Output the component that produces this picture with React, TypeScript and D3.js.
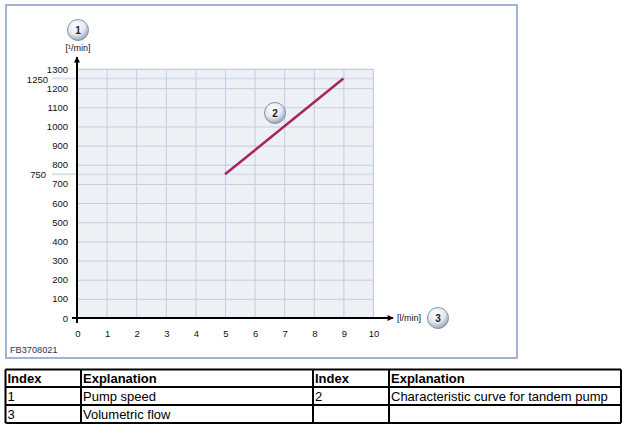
import React, { useEffect, useRef } from 'react';
import * as d3 from 'd3';

// data
const flowTicks = [0, 1, 2, 3, 4, 5, 6, 7, 8, 9, 10];
const speedTicks = [0, 100, 200, 300, 400, 500, 600, 700, 800, 900, 1000, 1100, 1200, 1300];
const markedSpeeds = [750, 1250];
const curveFlow = [5, 9];
const curveSpeed = [750, 1250];

const tableHeader = ['Index', 'Explanation', 'Index', 'Explanation'];
const tableRows = [
  ['1', 'Pump speed', '2', 'Characteristic curve for tandem pump'],
  ['3', 'Volumetric flow', '', ''],
];

export default () => {
  const svgRef = useRef<SVGSVGElement>(null);

  useEffect(() => {
    if (!svgRef.current) return;
    const svg = d3.select(svgRef.current);
    svg.selectAll('*').remove();

    const x = d3.scaleLinear().domain([0, 10]).range([77, 373]);
    const y = d3.scaleLinear().domain([0, 1300]).range([318, 69]);

    const defs = svg.append('defs');
    const grad = defs.append('radialGradient').attr('id', 'bubble')
      .attr('cx', '40%').attr('cy', '30%').attr('r', '70%');
    grad.append('stop').attr('offset', '0%').attr('stop-color', '#ffffff');
    grad.append('stop').attr('offset', '60%').attr('stop-color', '#e4e8ee');
    grad.append('stop').attr('offset', '100%').attr('stop-color', '#9aa6b8');
    defs.append('marker').attr('id', 'arrow')
      .attr('viewBox', '0 0 10 10').attr('refX', 9).attr('refY', 5)
      .attr('markerWidth', 9).attr('markerHeight', 6).attr('markerUnits', 'userSpaceOnUse')
      .attr('orient', 'auto')
      .append('path').attr('d', 'M0,0 L10,5 L0,10 Z').attr('fill', '#000');

    // frame
    svg.append('rect').attr('x', 6).attr('y', 5).attr('width', 511).attr('height', 353)
      .attr('fill', '#fff').attr('stroke', '#a3b3d2').attr('stroke-width', 2);

    // plot background
    svg.append('rect')
      .attr('x', x(0)).attr('y', y(1300))
      .attr('width', x(10) - x(0)).attr('height', y(0) - y(1300))
      .attr('fill', '#edf1f6').attr('stroke', '#dfe4ee');

    // marked levels
    svg.append('g').selectAll('line').data(markedSpeeds).enter().append('line')
      .attr('x1', 52).attr('x2', x(10))
      .attr('y1', (d) => y(d)).attr('y2', (d) => y(d))
      .attr('stroke', '#dbe1ec').attr('stroke-width', 2);

    // grid
    const grid = svg.append('g').attr('stroke', '#c5cbe3').attr('stroke-width', 1);
    grid.selectAll('line.v').data(flowTicks.slice(1)).enter().append('line')
      .attr('x1', (d) => x(d) + 0.5).attr('x2', (d) => x(d) + 0.5)
      .attr('y1', y(1300)).attr('y2', y(0));
    grid.selectAll('line.h').data(speedTicks.slice(1)).enter().append('line')
      .attr('x1', x(0)).attr('x2', x(10))
      .attr('y1', (d) => y(d) + 0.5).attr('y2', (d) => y(d) + 0.5);

    const font = 'Liberation Sans, Arial, sans-serif';
    const fs = 9.5;

    // tick labels
    svg.append('g').selectAll('text').data(speedTicks).enter().append('text')
      .attr('x', 68).attr('y', (d) => y(d) + 3.5)
      .attr('text-anchor', 'end').attr('font-family', font).attr('font-size', fs)
      .attr('fill', '#111').text((d) => d);
    svg.append('g').selectAll('text').data(flowTicks).enter().append('text')
      .attr('x', (d) => x(d) + 1).attr('y', 337)
      .attr('text-anchor', 'middle').attr('font-family', font).attr('font-size', fs)
      .attr('fill', '#111').text((d) => d);
    svg.append('g').selectAll('text').data(markedSpeeds).enter().append('text')
      .attr('x', (d) => (d >= 1000 ? 48 : 46)).attr('y', (d) => y(d) + 4)
      .attr('text-anchor', 'end').attr('font-family', font).attr('font-size', fs)
      .attr('fill', '#111').text((d) => d);

    // axes
    svg.append('line').attr('x1', x(0)).attr('x2', x(0)).attr('y1', y(0) + 5).attr('y2', 57)
      .attr('stroke', '#000').attr('stroke-width', 2).attr('marker-end', 'url(#arrow)');
    svg.append('line').attr('x1', x(0) - 5).attr('x2', 393).attr('y1', y(0)).attr('y2', y(0))
      .attr('stroke', '#000').attr('stroke-width', 2).attr('marker-end', 'url(#arrow)');

    // curve
    const line = d3.line<number>().x((d) => x(d)).y((d, i) => y(curveSpeed[i]));
    svg.append('path').attr('d', line(curveFlow))
      .attr('fill', 'none').attr('stroke', '#a8245f').attr('stroke-width', 2.5);

    // unit labels
    svg.append('text').attr('x', x(0) + 1).attr('y', 51).attr('text-anchor', 'middle')
      .attr('font-family', font).attr('font-size', 9).attr('fill', '#111').text('[¹/min]');
    svg.append('text').attr('x', 397).attr('y', 321)
      .attr('font-family', font).attr('font-size', 9).attr('fill', '#111').text('[l/min]');

    // bubbles
    const bubbles = [
      { cx: 78, cy: 30, label: '1' },
      { cx: 275, cy: 113, label: '2' },
      { cx: 438, cy: 318, label: '3' },
    ];
    const b = svg.append('g').selectAll('g').data(bubbles).enter().append('g');
    b.append('circle').attr('cx', (d) => d.cx).attr('cy', (d) => d.cy).attr('r', 10.5)
      .attr('fill', 'url(#bubble)').attr('stroke', '#8593aa').attr('stroke-width', 1);
    b.append('text').attr('x', (d) => d.cx).attr('y', (d) => d.cy + 3.5)
      .attr('text-anchor', 'middle').attr('font-family', font).attr('font-size', 10)
      .attr('font-weight', 'bold').attr('fill', '#222').text((d) => d.label);

    svg.append('text').attr('x', 10).attr('y', 353)
      .attr('font-family', font).attr('font-size', 9.2).attr('fill', '#2a3550').text('FB3708021');

    // table
    const cols = [5.5, 81, 313, 389, 621];
    const rowsY = [369.5, 387, 405, 423];
    const tg = svg.append('g');
    const allRows = [tableHeader, ...tableRows];
    allRows.forEach((row, ri) => {
      row.forEach((cell, ci) => {
        tg.append('text').attr('x', cols[ci] + 2).attr('y', rowsY[ri] + 13.5)
          .attr('font-family', font).attr('font-size', 13)
          .attr('font-weight', ri === 0 ? 'bold' : 'normal')
          .attr('fill', '#000').text(cell);
      });
    });
    rowsY.forEach((ry) => {
      tg.append('line').attr('x1', cols[0]).attr('x2', cols[4]).attr('y1', ry).attr('y2', ry)
        .attr('stroke', '#000').attr('stroke-width', 2);
    });
    cols.forEach((cx) => {
      tg.append('line').attr('x1', cx).attr('x2', cx).attr('y1', rowsY[0]).attr('y2', rowsY[3])
        .attr('stroke', '#000').attr('stroke-width', 2);
    });
  }, []);

  return (
    <svg ref={svgRef} width={626} height={429}
      style={{ position: 'absolute', left: 0, top: 0, background: '#fff' }} />
  );
};
